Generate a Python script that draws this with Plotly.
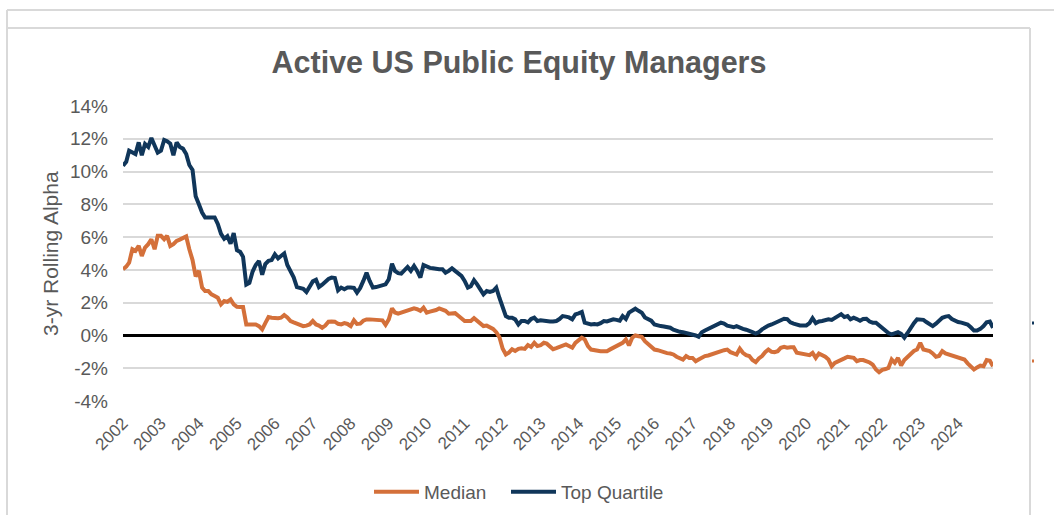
import pandas as pd
import plotly.graph_objects as go

# Monthly 3-year rolling alpha (%), Jan 2002 - Dec 2024, one row per year
median = [
    4.04, 4.2, 4.44, 5.26, 5.16, 5.46, 4.85, 5.36, 5.57, 5.87, 5.26, 6.08,
    6.08, 5.87, 6.08, 5.46, 5.57, 5.77, 5.85, 5.95, 6.04, 5.26, 4.6, 3.6,
    3.94, 2.92, 2.71, 2.71, 2.51, 2.41, 2.3, 1.9, 2.1, 2.05, 2.2, 1.9,
    1.75, 1.73, 1.73, 0.67, 0.67, 0.65, 0.67, 0.57, 0.37, 0.75, 1.12, 1.08,
    1.05, 1.05, 1.08, 1.24, 1.1, 0.88, 0.8, 0.71, 0.62, 0.57, 0.6, 0.67,
    0.88, 0.67, 0.6, 0.47, 0.6, 0.84, 0.85, 0.84, 0.71, 0.67, 0.75, 0.7,
    0.57, 0.92, 0.7, 0.72, 0.9, 0.98, 0.98, 0.98, 0.95, 0.92, 0.92, 0.65,
    0.98, 1.65, 1.4, 1.33, 1.4, 1.45, 1.53, 1.6, 1.65, 1.6, 1.5, 1.69,
    1.39, 1.45, 1.49, 1.55, 1.65, 1.6, 1.5, 1.33, 1.36, 1.36, 1.2, 1.0,
    0.88, 0.88, 0.88, 1.05, 0.9, 0.78, 0.57, 0.6, 0.5, 0.4, 0.2, -0.1,
    -0.8, -1.16, -1.05, -0.84, -0.95, -0.82, -0.78, -0.82, -0.59, -0.7, -0.45, -0.65,
    -0.6, -0.45, -0.5, -0.7, -0.84, -0.78, -0.7, -0.65, -0.55, -0.65, -0.75, -0.45,
    -0.3, -0.14, -0.24, -0.65, -0.86, -0.9, -0.96, -0.96, -0.96, -0.96, -0.85, -0.75,
    -0.61, -0.55, -0.45, -0.24, -0.61, -0.14, 0.0, -0.05, -0.08, -0.35, -0.55, -0.7,
    -0.86, -0.9, -0.96, -1.06, -1.08, -1.1, -1.16, -1.3, -1.4, -1.47, -1.26, -1.37,
    -1.37, -1.57, -1.47, -1.35, -1.26, -1.22, -1.15, -1.1, -1.02, -0.96, -0.9, -0.86,
    -1.02, -1.1, -1.16, -0.81, -1.06, -1.2, -1.26, -1.5, -1.63, -1.4, -1.26, -1.02,
    -0.86, -1.0, -1.02, -0.96, -0.75, -0.69, -0.75, -0.72, -0.72, -1.06, -1.1, -1.16,
    -1.2, -1.2, -1.06, -1.37, -1.1, -1.2, -1.3, -1.47, -1.88, -1.67, -1.6, -1.5,
    -1.4, -1.3, -1.33, -1.37, -1.57, -1.5, -1.5, -1.57, -1.65, -1.78, -2.08, -2.24,
    -2.1, -2.05, -1.98, -1.47, -1.67, -1.37, -1.84, -1.5, -1.3, -1.16, -0.95, -0.86,
    -0.45, -0.86, -0.9, -0.96, -1.1, -1.3, -1.25, -0.96, -1.1, -1.16, -1.25, -1.3,
    -1.37, -1.45, -1.47, -1.7, -1.9, -2.08, -1.95, -1.84, -1.88, -1.5, -1.55, -1.88,
]

top_quartile = [
    10.35, 10.6, 11.27, 11.2, 11.07, 11.78, 11.0, 11.68, 11.5, 12.05, 11.6, 11.15,
    11.27, 11.93, 11.85, 11.7, 11.0, 11.78, 11.5, 11.4, 11.07, 10.4, 10.1, 8.5,
    8.0, 7.5, 7.2, 7.2, 7.2, 7.2, 6.8, 6.2, 5.9, 6.05, 5.6, 6.25,
    5.2, 5.1, 4.8, 3.1, 3.2, 3.9, 4.3, 4.55, 3.7, 4.35, 4.55, 4.6,
    4.95, 4.7, 4.85, 5.0, 4.3, 3.94, 3.55, 2.95, 2.92, 2.85, 2.65, 3.0,
    3.3, 3.4, 2.95, 3.1, 3.3, 3.45, 3.53, 3.5, 2.75, 2.92, 2.82, 2.92,
    2.92, 2.9, 2.61, 2.9, 3.33, 3.83, 3.33, 2.92, 2.95, 3.0, 3.05, 3.12,
    3.43, 4.38, 3.94, 3.8, 3.77, 3.94, 4.18, 3.94, 4.24, 3.94, 3.53, 4.3,
    4.18, 4.12, 4.1, 4.04, 4.04, 4.04, 3.83, 3.94, 4.1, 3.94, 3.75, 3.63,
    3.33, 2.92, 3.0, 3.37, 3.12, 2.82, 2.51, 2.71, 2.65, 2.71, 2.92, 2.3,
    1.69, 1.18, 1.08, 1.08, 0.98, 0.67, 0.88, 0.88, 0.8, 1.0, 1.08, 0.88,
    0.92, 0.88, 0.88, 0.85, 0.85, 0.88, 1.0, 1.18, 1.15, 1.1, 0.98, 1.28,
    1.35, 1.43, 0.78, 0.7, 0.67, 0.7, 0.67, 0.75, 0.88, 0.85, 0.9, 0.98,
    0.95, 0.9, 1.18, 1.0, 1.39, 1.5, 1.63, 1.5, 1.39, 1.1, 1.0, 0.9,
    0.67, 0.6, 0.57, 0.55, 0.5, 0.47, 0.35, 0.26, 0.22, 0.2, 0.15, 0.12,
    0.08, 0.0, -0.08, 0.2, 0.3, 0.4, 0.45, 0.55, 0.7, 0.78, 0.72, 0.6,
    0.55, 0.5, 0.57, 0.45, 0.4, 0.35, 0.3, 0.2, 0.12, 0.2, 0.37, 0.5,
    0.6, 0.67, 0.75, 0.8, 0.95, 1.02, 1.0, 0.8, 0.72, 0.65, 0.61, 0.61,
    0.61, 0.75, 1.05, 0.75, 0.85, 0.88, 0.95, 0.98, 0.95, 1.05, 1.18, 1.3,
    1.12, 1.18, 0.98, 1.08, 1.0, 0.9, 1.0, 1.02, 0.85, 0.78, 0.78, 0.62,
    0.45, 0.27, 0.15, 0.06, 0.15, 0.2, 0.1, -0.14, 0.15, 0.5, 0.75, 0.98,
    0.98, 0.95, 0.82, 0.7, 0.57, 0.72, 0.9, 1.08, 1.15, 1.18, 1.0, 0.9,
    0.82, 0.78, 0.75, 0.67, 0.5, 0.3, 0.3, 0.4, 0.57, 0.8, 0.85, 0.47,
]

months = pd.date_range("2002-01-01", periods=len(median), freq="MS")
y_ticks = [-4, -2, 0, 2, 4, 6, 8, 10, 12, 14]
y_tick_labels = ["-4%", "-2%", "0%", "2%", "4%", "6%", "8%", "10%", "12%", "14%"]

ORANGE = "#D4703A"
NAVY = "#10365A"
TEXT = "#595959"
GRID = "#D9D9D9"
FONT = "Liberation Sans, Arial, sans-serif"

W, H = 1054, 515
ML, MR, MT, MB = 123, 61, 106, 114
PW, PH = W - ML - MR, H - MT - MB


def px(x):
    return (x - ML) / PW


def py(y):
    return (H - MB - y) / PH


fig = go.Figure()
fig.add_trace(go.Scatter(x=months, y=median, name="Median", mode="lines",
                         line=dict(color=ORANGE, width=4), legend="legend"))
fig.add_trace(go.Scatter(x=months, y=top_quartile, name="Top Quartile", mode="lines",
                         line=dict(color=NAVY, width=4), legend="legend2"))

# frame lines around the chart card
frame = dict(type="line", xref="paper", yref="paper", line=dict(color=GRID, width=2), layer="below")
shapes = [
    dict(frame, x0=px(7), x1=px(W), y0=py(10), y1=py(10)),
    dict(frame, x0=px(7), x1=px(7), y0=py(10), y1=py(H)),
    dict(frame, x0=px(7), x1=px(1030), y0=py(28), y1=py(28)),
    dict(frame, x0=px(1030), x1=px(1030), y0=py(28), y1=py(H)),
    dict(type="line", xref="paper", yref="paper", x0=px(1032), x1=px(1034),
         y0=py(323), y1=py(323), line=dict(color=NAVY, width=3)),
    dict(type="line", xref="paper", yref="paper", x0=px(1032), x1=px(1034),
         y0=py(361), y1=py(361), line=dict(color=ORANGE, width=3)),
]

legend_style = dict(orientation="h", xref="container", xanchor="left",
                    yref="container", y=1 - 492 / H, yanchor="middle",
                    font=dict(family=FONT, size=19, color=TEXT),
                    itemwidth=45, bgcolor="rgba(0,0,0,0)")

fig.update_layout(
    width=W, height=H,
    margin=dict(l=ML, r=MR, t=MT, b=MB),
    paper_bgcolor="white", plot_bgcolor="white",
    font=dict(family=FONT, size=18, color=TEXT),
    title=dict(text="<b>Active US Public Equity Managers</b>",
               font=dict(family=FONT, size=30.5, color=TEXT),
               xref="container", x=519 / W, xanchor="center",
               yref="container", y=1 - 62 / H, yanchor="middle"),
    showlegend=True,
    legend=dict(legend_style, x=369 / W),
    legend2=dict(legend_style, x=506 / W),
    shapes=shapes,
    annotations=[dict(text="3-yr Rolling Alpha", textangle=-90,
                      xref="paper", yref="paper", x=px(50), y=py(254),
                      xanchor="center", yanchor="middle", showarrow=False,
                      font=dict(family=FONT, size=21, color=TEXT))],
)

fig.update_xaxes(type="date", range=[months[0], months[-1]],
                 tickformat="%Y", dtick="M12", tick0="2002-01-01",
                 tickangle=-45, showgrid=False, showline=False, ticks="",
                 ticklabelstandoff=8,
                 tickfont=dict(family=FONT, size=17, color=TEXT))
fig.update_yaxes(range=[-4, 14], tickvals=y_ticks, ticktext=y_tick_labels,
                 showgrid=True, gridcolor=GRID, gridwidth=1.5,
                 zeroline=True, zerolinecolor="black", zerolinewidth=2.5,
                 showline=False, ticks="", ticklabelstandoff=14,
                 tickfont=dict(family=FONT, size=19, color=TEXT))

fig.write_html("out.html")
